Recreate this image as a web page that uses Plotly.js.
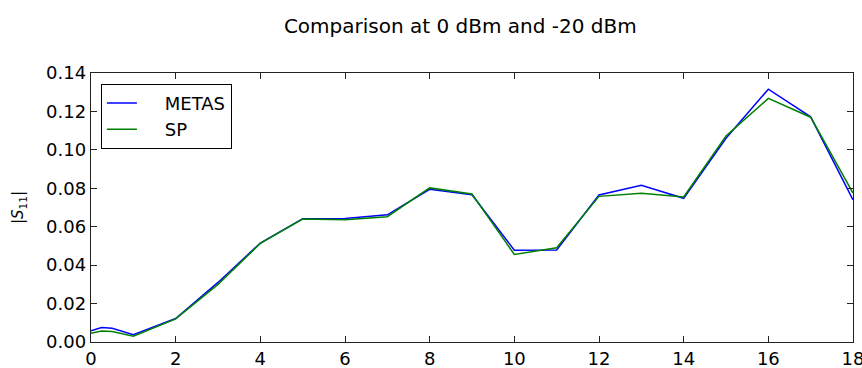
<!DOCTYPE html>
<html><head><meta charset="utf-8">
<script src="https://cdn.plot.ly/plotly-3.0.1.min.js"></script>
<style>html,body{margin:0;padding:0;background:#fff}#c{width:862px;height:368px}</style>
</head><body><div id="c"></div>
<script>
const freq = [0, 0.25, 0.5, 1, 2, 3, 4, 5, 6, 7, 8, 9, 10, 11, 12, 13, 14, 15, 16, 17, 18];
const metas = [0.0058, 0.0075, 0.0072, 0.0038, 0.0122, 0.031, 0.0515, 0.0642, 0.0643, 0.0662, 0.0795, 0.0766, 0.0478, 0.0479, 0.0765, 0.0816, 0.0748, 0.1060, 0.1316, 0.1172, 0.0740];
const sp    = [0.0045, 0.0057, 0.0055, 0.0030, 0.0120, 0.030, 0.0513, 0.0640, 0.0636, 0.0652, 0.0802, 0.0770, 0.0456, 0.0490, 0.0758, 0.0774, 0.0755, 0.1072, 0.1268, 0.1170, 0.0775];
const seriesNames = ['METAS', 'SP'];
const xTicks = [0, 2, 4, 6, 8, 10, 12, 14, 16, 18];
const yTicks = [0, 0.02, 0.04, 0.06, 0.08, 0.10, 0.12, 0.14];
const yTickText = ['0.00','0.02','0.04','0.06','0.08','0.10','0.12','0.14'];

const font = 'DejaVu Sans, sans-serif';
const pad = '\u00a0\u00a0\u00a0\u00a0';
const traces = [
  {x: freq, y: metas, name: pad + seriesNames[0], mode: 'lines', line: {color: '#0000ff', width: 1.5}},
  {x: freq, y: sp, name: pad + seriesNames[1], mode: 'lines', line: {color: '#008000', width: 1.5}}
];
const axisCommon = {showline: true, linecolor: '#222', linewidth: 1.2, mirror: 'allticks', ticks: 'inside', ticklen: 6, tickcolor: '#222', showgrid: false, zeroline: false, ticklabeloverflow: 'allow', tickfont: {family: font, size: 18, color: '#000'}};
const layout = {
  width: 862, height: 368,
  margin: {l: 91, r: 9, t: 73, b: 26},
  paper_bgcolor: '#fff', plot_bgcolor: '#fff',
  title: {text: 'Comparison at 0 dBm and -20 dBm', font: {family: font, size: 20, color: '#000'}, x: 0.534, xref: 'container', y: 0.93, yref: 'container', xanchor: 'center', yanchor: 'middle'},
  xaxis: Object.assign({}, axisCommon, {range: [0, 18], tickvals: xTicks, ticktext: xTicks.map(String), automargin: false}),
  yaxis: Object.assign({}, axisCommon, {range: [0, 0.14], tickvals: yTicks, ticktext: yTickText, automargin: false,
    title: {text: '|<i>S</i><sub>11</sub>|', font: {family: font, size: 15, color: '#000'}, standoff: 18}}),
  showlegend: true,
  legend: {x: 0.013, y: 0.96, xanchor: 'left', yanchor: 'top', bgcolor: '#fff', bordercolor: '#000', borderwidth: 1, font: {family: font, size: 18, color: '#000'}, itemwidth: 30, tracegroupgap: 4}
};
Plotly.newPlot('c', traces, layout, {displayModeBar: false, staticPlot: true});
</script></body></html>
